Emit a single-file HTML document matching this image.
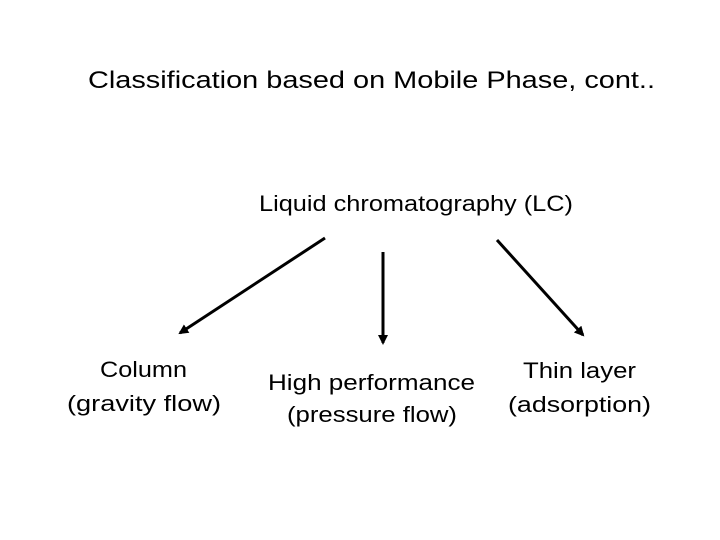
<!DOCTYPE html>
<html><head><meta charset="utf-8"><style>
html,body{margin:0;padding:0;background:#fff;}
svg{display:block;}
text{font-family:"Liberation Sans",sans-serif;fill:#000;}
</style></head><body>
<svg width="720" height="540" viewBox="0 0 720 540" xmlns="http://www.w3.org/2000/svg">
<defs>
<marker id="ah" markerWidth="10" markerHeight="10" refX="8" refY="5" orient="auto" markerUnits="userSpaceOnUse">
<path d="M0,0 L10,5 L0,10 z" fill="#000"/>
</marker>
</defs>
<text x="88" y="88" font-size="24" textLength="567" lengthAdjust="spacingAndGlyphs">Classification based on Mobile Phase, cont..</text>
<text x="259" y="211" font-size="22" textLength="314" lengthAdjust="spacingAndGlyphs">Liquid chromatography (LC)</text>
<line x1="325" y1="238" x2="180" y2="333" stroke="#000" stroke-width="3" marker-end="url(#ah)"/>
<line x1="383" y1="252" x2="383" y2="343" stroke="#000" stroke-width="3" marker-end="url(#ah)"/>
<line x1="497" y1="240" x2="583" y2="335" stroke="#000" stroke-width="3" marker-end="url(#ah)"/>
<text x="100" y="377" font-size="22" textLength="87" lengthAdjust="spacingAndGlyphs">Column</text>
<text x="67" y="411" font-size="22" textLength="154" lengthAdjust="spacingAndGlyphs">(gravity flow)</text>
<text x="268" y="390" font-size="22" textLength="207" lengthAdjust="spacingAndGlyphs">High performance</text>
<text x="287" y="422" font-size="22" textLength="170" lengthAdjust="spacingAndGlyphs">(pressure flow)</text>
<text x="523" y="378" font-size="22" textLength="113" lengthAdjust="spacingAndGlyphs">Thin layer</text>
<text x="508" y="412" font-size="22" textLength="143" lengthAdjust="spacingAndGlyphs">(adsorption)</text>
</svg>
</body></html>
